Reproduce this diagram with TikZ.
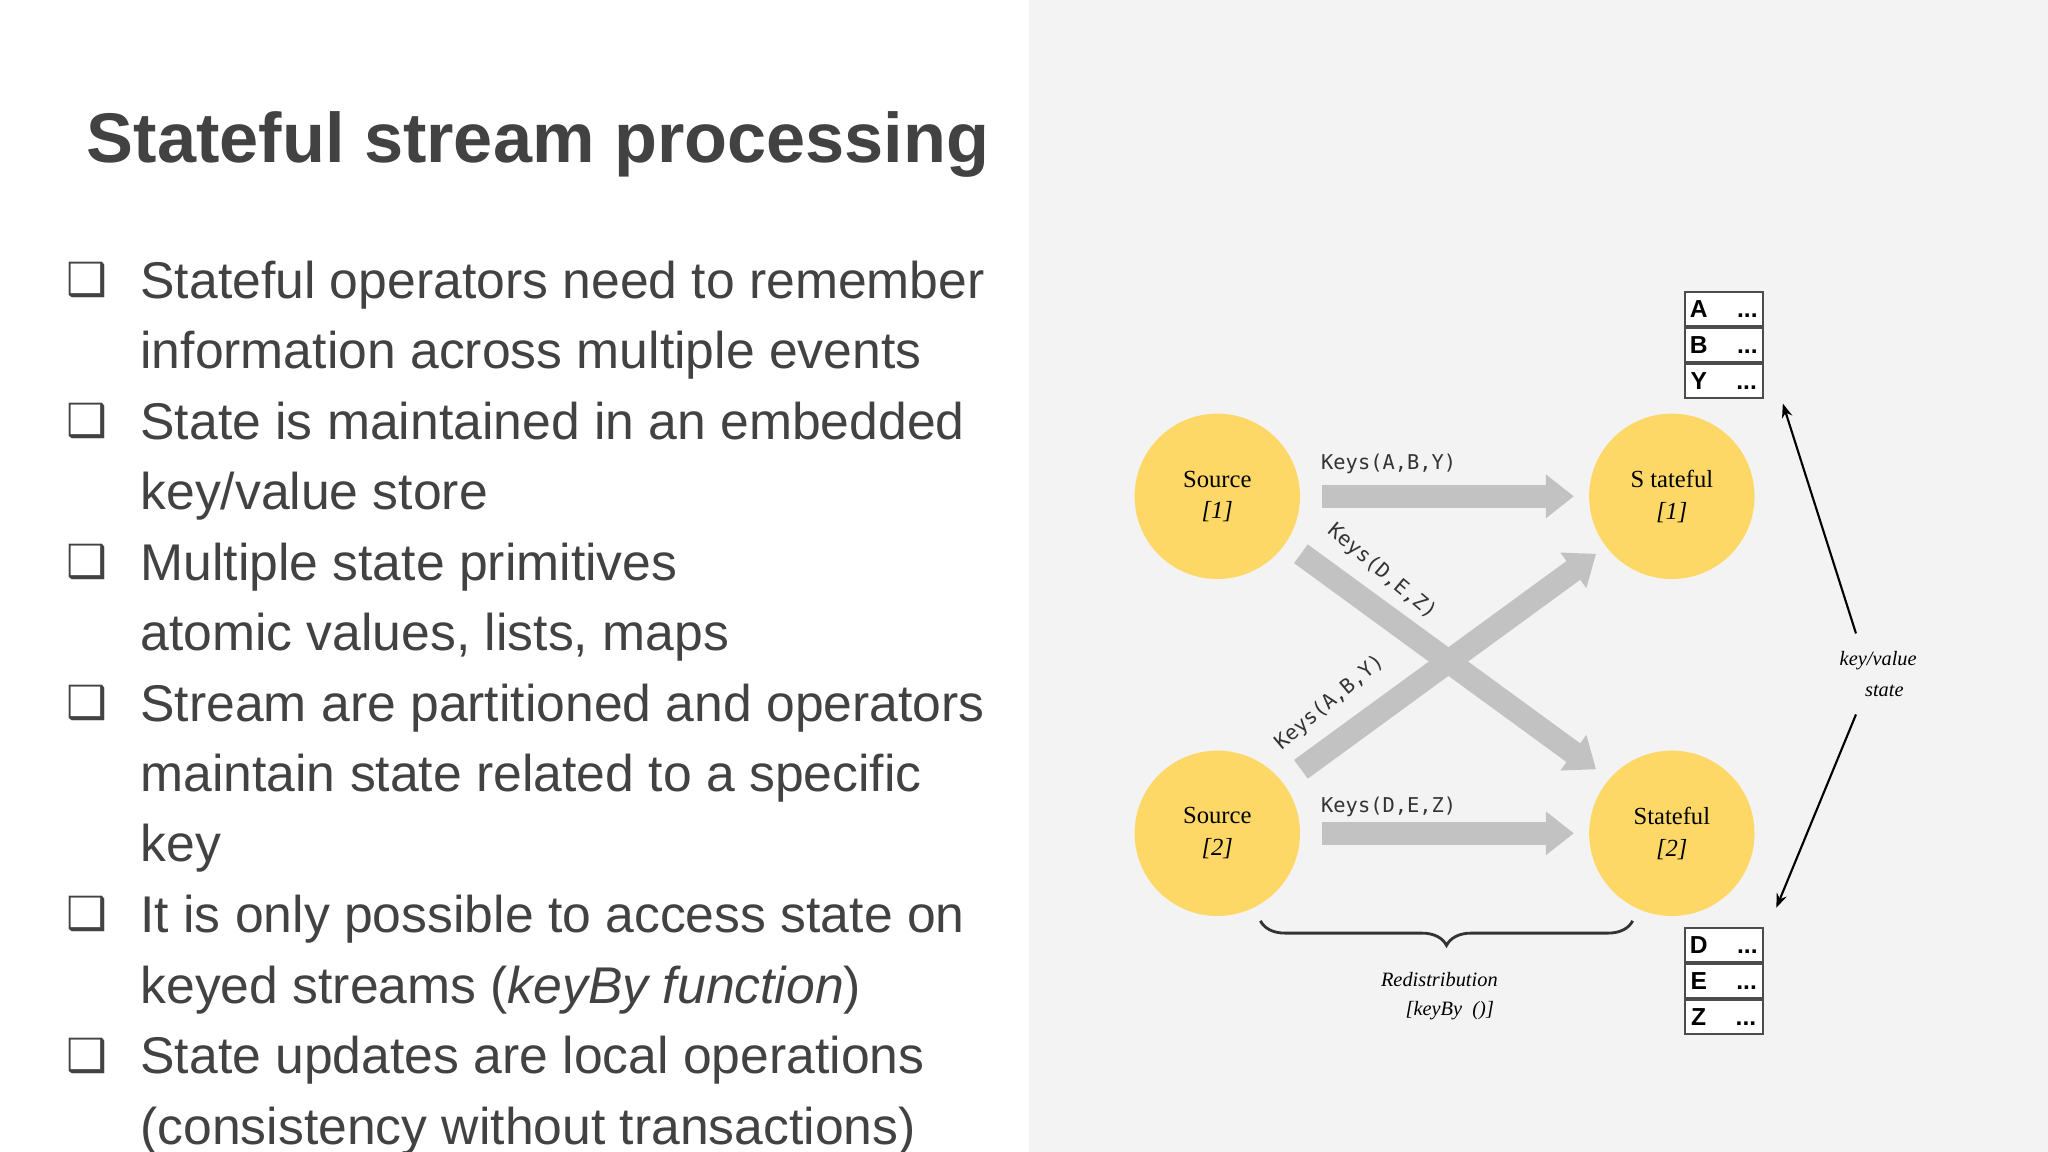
\documentclass[tikz,border=0pt]{standalone}
\usepackage{fontspec}
\setmainfont{Liberation Serif}
\setsansfont{Liberation Sans}
\setmonofont{DejaVu Sans Mono}
\newfontfamily\symfont{DejaVu Sans}
\usetikzlibrary{arrows.meta,decorations.pathreplacing}
\definecolor{txt}{HTML}{424242}
\definecolor{panel}{HTML}{F3F3F3}
\definecolor{circ}{HTML}{FDD866}
\definecolor{flow}{HTML}{C2C2C2}
\tikzset{
  x=0.013061cm, y=-0.013061cm,
  bul/.style={anchor=north west, inner sep=0pt, align=left, font=\sffamily\fontsize{14.7}{20.0}\selectfont, text=txt},
  bulmark/.style={anchor=north west, inner sep=0pt, font=\symfont\fontsize{13}{13}\selectfont, text=txt},
  opnode/.style={circle, fill=circ, minimum size=127*0.3705pt, inner sep=0pt, align=center, font=\fontsize{7}{9}\selectfont},
  flowarr/.style={draw=flow, line width=6.6pt, -{Triangle[width=12pt,length=8pt]}},
  keylbl/.style={font=\ttfamily\fontsize{5.8}{6}\selectfont, inner sep=0pt, text=black!80},
  kvcell/.style={draw=black!70, line width=0.6pt, fill=white, minimum width=60*0.3705pt, minimum height=26*0.3705pt, inner sep=0pt, font=\sffamily\bfseries\fontsize{7}{7}\selectfont},
  thinarr/.style={draw=black, line width=0.6pt, -{Stealth[length=4pt,width=3pt]}},
  note/.style={font=\itshape\fontsize{5.8}{7}\selectfont, align=center, inner sep=0pt}
}
\begin{document}
\begin{tikzpicture}
\useasboundingbox (0,0) rectangle (1568,882);
\fill[white] (0,0) rectangle (788,882);
\fill[panel] (788,0) rectangle (1568,882);
% title
\node[anchor=west, inner sep=0pt, font=\sffamily\bfseries\fontsize{20}{24}\selectfont, text=txt] (title) at (66,111) {Stateful stream processing};
% bullets
\foreach \y/\t [count=\i] in {
 199/{Stateful operators need to remember\\information across multiple events},
 307/{State is maintained in an embedded\\key/value store},
 415/{Multiple state primitives\\atomic values, lists, maps},
 523/{Stream are partitioned and operators\\maintain state related to a specific\\key},
 685/{It is only possible to access state on\\keyed streams (\textit{keyBy function})},
 793/{State updates are local operations\\(consistency without transactions)}}
{
 \node[bulmark] (m\i) at (50,\y+1) {❑};
 \node[bul] (b\i) at (107,\y) {\t};
}
% operators
\node[opnode] (s1) at (932,380) {Source\\\textit{[1]}};
\node[opnode] (s2) at (932,638) {Source\\\textit{[2]}};
\node[opnode] (t1) at (1280,380) {S tateful\\\textit{[1]}};
\node[opnode] (t2) at (1280,638) {Stateful\\\textit{[2]}};
% flow arrows
\coordinate (a1s) at (1012,380); \coordinate (a1e) at (1205,380);
\coordinate (a2s) at (1012,638); \coordinate (a2e) at (1205,638);
\coordinate (d1s) at (996,424); \coordinate (d1e) at (1222,589);
\coordinate (d2s) at (996,589); \coordinate (d2e) at (1222,424);
\draw[flowarr] (a1s) -- (a1e);
\draw[flowarr] (a2s) -- (a2e);
\draw[flowarr] (d1s) -- (d1e);
\draw[flowarr] (d2s) -- (d2e);
\node[keylbl, anchor=west] (k1) at (1011,355) {Keys(A,B,Y)};
\node[keylbl, anchor=west] (k2) at (1011,618) {Keys(D,E,Z)};
\node[keylbl, rotate=-40] (k3) at (1058,438) {Keys(D,E,Z)};
\node[keylbl, rotate=40] (k4) at (1018,538) {Keys(A,B,Y)};
% kv tables
\node[kvcell, anchor=north west] (ca) at (1289,223) {A\hspace{1.2em}...};
\node[kvcell, anchor=north] (cb) at (ca.south) {B\hspace{1.2em}...};
\node[kvcell, anchor=north] (cy) at (cb.south) {Y\hspace{1.2em}...};
\node[kvcell, anchor=north west] (cd) at (1289,710) {D\hspace{1.2em}...};
\node[kvcell, anchor=north] (ce) at (cd.south) {E\hspace{1.2em}...};
\node[kvcell, anchor=north] (cz) at (ce.south) {Z\hspace{1.2em}...};
% key/value state
\node[note] (kv) at (1438,516) {key/value\\[2pt]\hspace{0.6em}state};
\coordinate (kvt) at (1421,485); \coordinate (kvb) at (1421,547);
\coordinate (ut) at (1365,309); \coordinate (lb) at (1360,695);
\draw[thinarr] (kvt) -- (ut);
\draw[thinarr] (kvb) -- (lb);
% brace
\coordinate (br1) at (1250,705); \coordinate (br2) at (965,705);
\draw[black!80, line width=0.8pt, decorate, decoration={brace, amplitude=7pt}] (br1) -- (br2);
\node[note] (red) at (1102,750) {Redistribution};
\node[note] (kb) at (1110,774) {[keyBy\ \ ()]};
\end{tikzpicture}
\end{document}
